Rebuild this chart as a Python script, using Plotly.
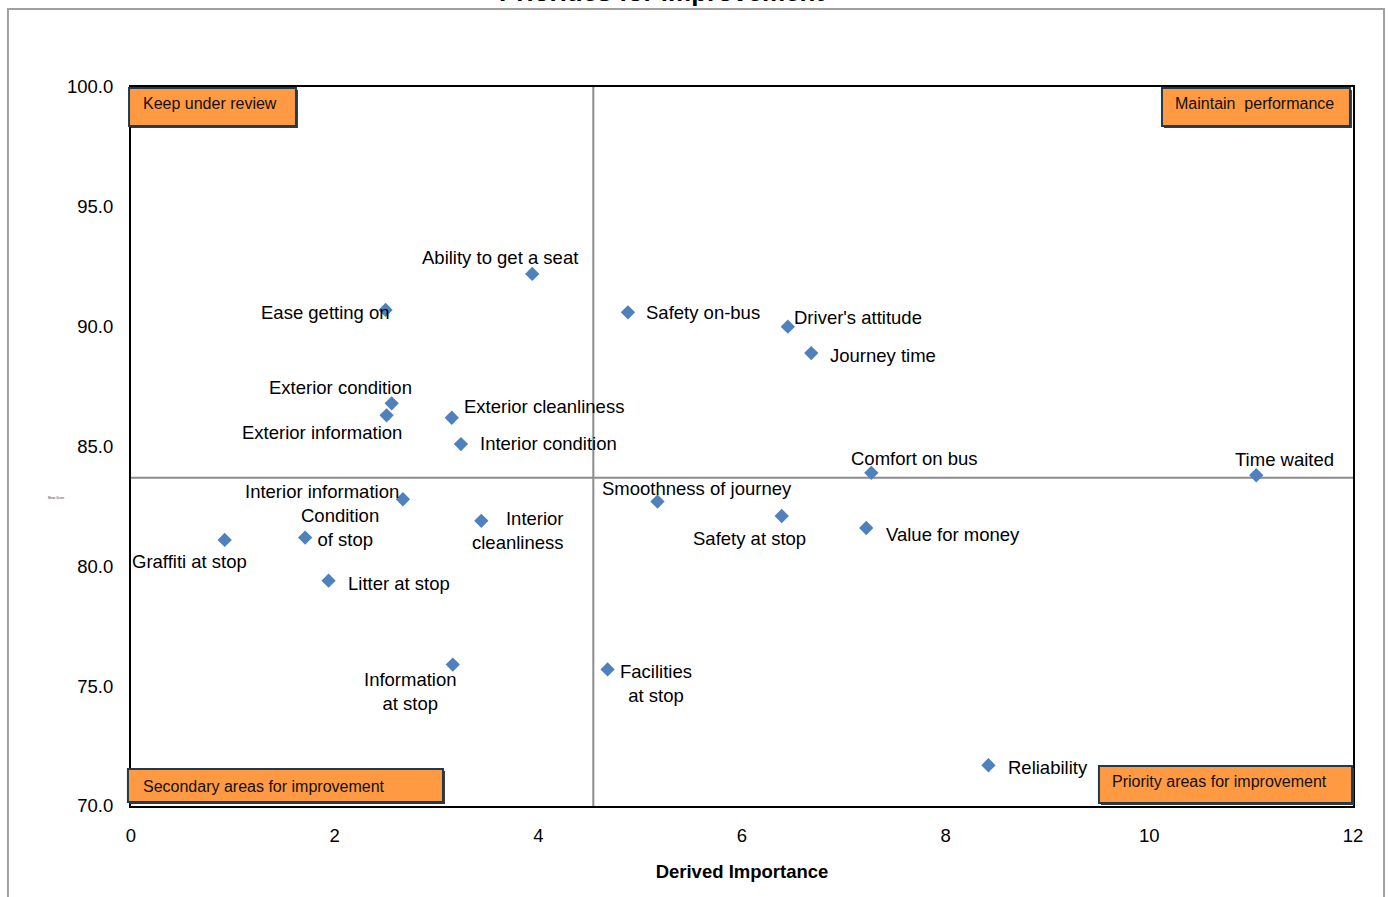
import plotly.graph_objects as go

# Attribute ratings: derived importance vs mean satisfaction score
attributes = [
    "Graffiti at stop", "Condition of stop", "Litter at stop", "Interior information",
    "Ease getting on", "Exterior condition", "Exterior information", "Ability to get a seat",
    "Exterior cleanliness", "Interior condition", "Interior cleanliness", "Information at stop",
    "Facilities at stop", "Safety on-bus", "Smoothness of journey", "Driver's attitude",
    "Journey time", "Safety at stop", "Comfort on bus", "Value for money",
    "Reliability", "Time waited",
]
importance = [0.92, 1.71, 1.94, 2.67, 2.50, 2.56, 2.51, 3.94, 3.15, 3.24, 3.44, 3.16,
              4.68, 4.88, 5.17, 6.45, 6.68, 6.39, 7.27, 7.22, 8.42, 11.05]
mean_score = [81.1, 81.2, 79.4, 82.8, 90.7, 86.8, 86.3, 92.2, 86.2, 85.1, 81.9, 75.9,
              75.7, 90.6, 82.7, 90.0, 88.9, 82.1, 83.9, 81.6, 71.7, 83.8]

# Quadrant dividers (average importance / average score)
avg_importance = 4.54
avg_score = 83.7

quadrant_labels = ["Keep under review", "Maintain  performance",
                   "Secondary areas for improvement", "Priority areas for improvement"]

x_ticks = [0, 2, 4, 6, 8, 10, 12]
y_ticks = [70, 75, 80, 85, 90, 95, 100]

FONT = "Liberation Sans, Arial, sans-serif"

# label placement around each marker: (dx px, dy px downwards, anchor, align, text)
label_layout = {
    "Graffiti at stop": (-35, 22, "center", "center", "Graffiti at stop"),
    "Condition of stop": (35, -10, "center", "center", "Condition<br>\u00a0\u00a0of stop"),
    "Litter at stop": (17, 3, "left", "left", "Litter at stop"),
    "Interior information": (-2, -8, "right", "right", "Interior information"),
    "Ease getting on": (6, 3, "right", "right", "Ease getting on"),
    "Exterior condition": (-51, -16, "center", "center", "Exterior condition"),
    "Exterior information": (-65, 17, "center", "center", "Exterior information"),
    "Ability to get a seat": (-32, -16, "center", "center", "Ability to get a seat"),
    "Exterior cleanliness": (10, -11, "left", "left", "Exterior cleanliness"),
    "Interior condition": (17, -1, "left", "left", "Interior condition"),
    "Interior cleanliness": (85, 10, "right", "right", "Interior<br>cleanliness"),
    "Information at stop": (-42, 27, "center", "center", "Information<br>at stop"),
    "Facilities at stop": (48, 14, "center", "center", "Facilities<br>at stop"),
    "Safety on-bus": (16, 0, "left", "left", "Safety on-bus"),
    "Smoothness of journey": (40, -13, "center", "center", "Smoothness of journey"),
    "Driver's attitude": (4, -9, "left", "left", "Driver's attitude"),
    "Journey time": (17, 2, "left", "left", "Journey time"),
    "Safety at stop": (-32, 22, "center", "center", "Safety at stop"),
    "Comfort on bus": (43, -14, "center", "center", "Comfort on bus"),
    "Value for money": (18, 7, "left", "left", "Value for money"),
    "Reliability": (18, 2, "left", "left", "Reliability"),
    "Time waited": (28, -16, "center", "center", "Time waited"),
}

fig = go.Figure()

fig.add_trace(go.Scatter(
    x=importance, y=mean_score, mode="markers",
    marker=dict(symbol="diamond", size=11, color="#4F81BD"),
    hovertext=attributes, hoverinfo="text", showlegend=False,
))

shapes = []
# quadrant dividers
shapes.append(dict(type="line", xref="x", yref="paper", x0=avg_importance, x1=avg_importance,
                   y0=0, y1=1, line=dict(color="#8C8C8C", width=2), layer="below"))
shapes.append(dict(type="line", xref="paper", yref="y", x0=0, x1=1, y0=avg_score, y1=avg_score,
                   line=dict(color="#8C8C8C", width=2), layer="below"))

# outer chart frame
shapes.append(dict(type="rect", xref="paper", yref="paper", x0=-0.1007, x1=1.0254,
                   y0=-0.3, y1=1.1085, line=dict(color="#A0A0A0", width=2), layer="below"))

annotations = []
for name, xv, yv in zip(attributes, importance, mean_score):
    dx, dy, anchor, align, text = label_layout[name]
    annotations.append(dict(
        x=xv, y=yv, xref="x", yref="y", text=text, showarrow=False,
        xanchor=anchor, yanchor="middle", align=align, xshift=dx, yshift=-dy,
        font=dict(family=FONT, size=18.5, color="black"),
    ))

# quadrant boxes: (x0, x1, y0, y1) paper, text x, text y
boxes = [
    (-0.0016, 0.1350, 0.9458, 0.9986, 0.0082, 0.9764),
    (0.8437, 0.9975, 0.9458, 0.9986, 0.8527, 0.9764),
    (-0.0025, 0.2553, 0.0056, 0.0515, 0.0082, 0.0278),
    (0.7921, 0.9992, 0.0042, 0.0556, 0.8012, 0.0334),
]
sx, sy = 2 / 1222, 2 / 719
for label, (x0, x1, y0, y1, tx, ty) in zip(quadrant_labels, boxes):
    shapes.append(dict(type="rect", xref="paper", yref="paper",
                       x0=x0 + sx, x1=x1 + sx, y0=y0 - sy, y1=y1 - sy,
                       fillcolor="#3A3A3A", line=dict(width=0), layer="above"))
    shapes.append(dict(type="rect", xref="paper", yref="paper", x0=x0, x1=x1, y0=y0, y1=y1,
                       fillcolor="#FF9A42", line=dict(color="#1E3B50", width=2), layer="above"))
    annotations.append(dict(x=tx, y=ty, xref="paper", yref="paper", text=label.replace("  ", "\u00a0 "),
                            showarrow=False, xanchor="left", yanchor="middle",
                            font=dict(family=FONT, size=16, color="#111111")))

# chart title (sits at the top edge)
annotations.append(dict(x=0.434, y=1.1326, xref="paper", yref="paper",
                        text="<b>Priorities for improvement</b>", showarrow=False,
                        xanchor="center", yanchor="middle",
                        font=dict(family=FONT, size=26, color="black")))
# y axis caption
annotations.append(dict(x=-0.0606, y=0.4283, xref="paper", yref="paper", text="Mean Score",
                        showarrow=False, xanchor="center", yanchor="middle",
                        font=dict(family=FONT, size=3, color="#333333")))

fig.update_layout(
    width=1389, height=897,
    margin=dict(l=131, r=36, t=87, b=91),
    paper_bgcolor="white", plot_bgcolor="white",
    shapes=shapes, annotations=annotations,
    font=dict(family=FONT, size=18.5, color="black"),
    xaxis=dict(range=[0, 12], tickvals=x_ticks, ticktext=[str(v) for v in x_ticks],
               showgrid=False, zeroline=False, showline=True, linecolor="black", linewidth=2,
               mirror=True, ticks="outside", ticklen=12, tickcolor="rgba(0,0,0,0)",
               tickfont=dict(size=18.5),
               title=dict(text="<b>Derived Importance</b>", font=dict(size=18.5), standoff=20)),
    yaxis=dict(range=[70, 100], tickvals=y_ticks, ticktext=[f"{v:.1f}" for v in y_ticks],
               showgrid=False, zeroline=False, showline=True, linecolor="black", linewidth=2,
               mirror=True, ticks="outside", ticklen=12, tickcolor="rgba(0,0,0,0)",
               tickfont=dict(size=18.5)),
)

fig.write_html("out.html")
